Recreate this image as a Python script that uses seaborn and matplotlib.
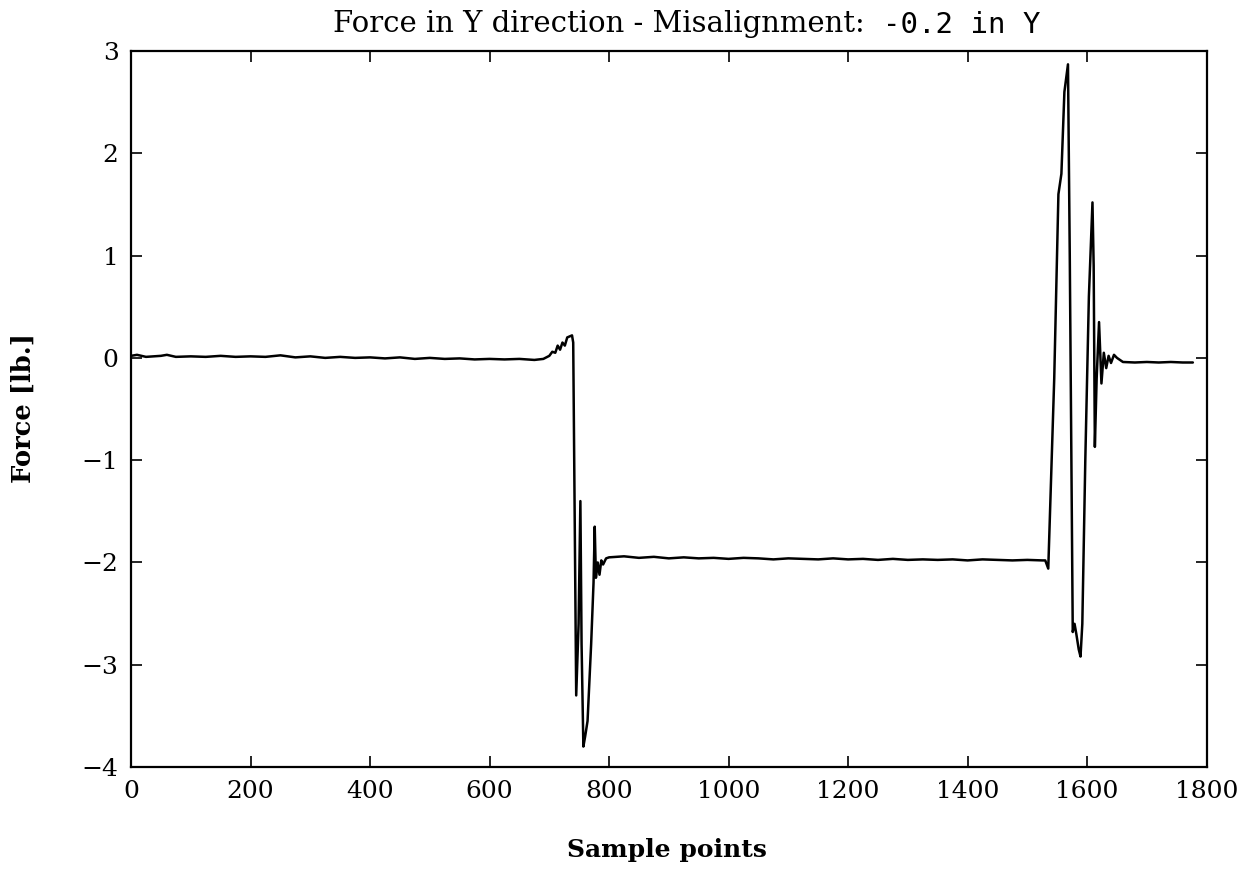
import matplotlib
matplotlib.use("Agg")
import matplotlib.pyplot as plt
import seaborn as sns
import pandas as pd

# Force trace (lb.) against sample index, as (sample, force) vertices per phase
rest_start = [
    (0, 0.02), (10, 0.03), (25, 0.01), (50, 0.02), (60, 0.03), (75, 0.01),
    (100, 0.015), (125, 0.01), (150, 0.02), (175, 0.01), (200, 0.015),
    (225, 0.01), (250, 0.025), (275, 0.005), (300, 0.015), (325, 0.0),
    (350, 0.01), (375, 0.0), (400, 0.005), (425, -0.005), (450, 0.005),
    (475, -0.01), (500, 0.0), (525, -0.01), (550, -0.005), (575, -0.015),
    (600, -0.01), (625, -0.015), (650, -0.01), (675, -0.02), (690, -0.01),
]
first_contact = [
    (700, 0.02), (705, 0.06), (710, 0.05), (714, 0.12), (718, 0.08),
    (722, 0.15), (726, 0.12), (730, 0.2), (734, 0.21), (738, 0.22),
    (740, 0.15), (745, -3.3), (749, -2.6), (752, -1.4), (754, -2.8),
    (757, -3.8), (760, -3.7), (764, -3.55), (770, -2.8), (774, -2.2),
    (776, -1.65), (778, -2.15), (781, -2.0), (784, -2.12), (787, -1.98),
    (790, -2.02), (795, -1.96),
]
loaded = [
    (800, -1.95), (825, -1.94), (850, -1.955), (875, -1.945), (900, -1.96),
    (925, -1.95), (950, -1.96), (975, -1.955), (1000, -1.965),
    (1025, -1.955), (1050, -1.96), (1075, -1.97), (1100, -1.96),
    (1125, -1.965), (1150, -1.97), (1175, -1.96), (1200, -1.97),
    (1225, -1.965), (1250, -1.975), (1275, -1.965), (1300, -1.975),
    (1325, -1.97), (1350, -1.975), (1375, -1.97), (1400, -1.98),
    (1425, -1.97), (1450, -1.975), (1475, -1.98), (1500, -1.975),
    (1525, -1.98), (1530, -1.98),
]
release = [
    (1535, -2.06), (1545, -0.2), (1552, 1.6), (1557, 1.8), (1562, 2.6),
    (1568, 2.87), (1571, 1.0), (1576, -2.68), (1579, -2.6), (1582, -2.7),
    (1586, -2.85), (1589, -2.92), (1592, -2.6), (1597, -1.0), (1603, 0.6),
    (1609, 1.52), (1611, 0.9), (1613, -0.87), (1616, -0.2), (1620, 0.35),
    (1624, -0.25), (1628, 0.05), (1632, -0.1), (1636, 0.02), (1640, -0.05),
    (1645, 0.03), (1650, 0.0),
]
rest_end = [
    (1655, -0.02), (1660, -0.04), (1680, -0.045), (1700, -0.04),
    (1720, -0.045), (1740, -0.04), (1760, -0.045), (1777, -0.045),
]

x_ticks = [0, 200, 400, 600, 800, 1000, 1200, 1400, 1600, 1800]
y_ticks = [-4, -3, -2, -1, 0, 1, 2, 3]

trace = rest_start + first_contact + loaded + release + rest_end
df = pd.DataFrame(trace, columns=["sample", "force"])

sns.set_theme(style="ticks")
plt.rcParams["font.family"] = ["DejaVu Serif"]

fig = plt.figure(figsize=(12.42, 8.77), dpi=100)
ax = fig.add_axes([0.1055, 0.1254, 0.866, 0.8164])

sns.lineplot(data=df, x="sample", y="force", ax=ax, color="black",
             linewidth=1.8, sort=False, estimator=None)

ax.set_xlim(0, 1800)
ax.set_ylim(-4, 3)
ax.set_xticks(x_ticks)
ax.set_yticks(y_ticks)
ax.tick_params(axis="both", which="both", direction="in", length=8,
               width=1.2, top=True, right=True, labelsize=18,
               colors="black", pad=9)
for spine in ax.spines.values():
    spine.set_visible(True)
    spine.set_color("black")
    spine.set_linewidth(1.6)

ax.set_xlabel("")
ax.set_ylabel("")
fig.text(0.537, 0.031, "Sample points", ha="center", va="center",
         fontsize=18, fontweight="bold", color="black")
fig.text(0.019, 0.535, "Force [lb.]", ha="center", va="center",
         rotation=90, fontsize=18.5, fontweight="bold", color="black")

fig.text(0.696, 0.973, "Force in Y direction - Misalignment:", ha="right",
         va="center", fontsize=21, color="black")
fig.text(0.711, 0.971, "-0.2 in Y", ha="left", va="center",
         fontsize=21, color="black", family=["DejaVu Sans Mono"])

fig.savefig("out.png", dpi=100, facecolor="white")
